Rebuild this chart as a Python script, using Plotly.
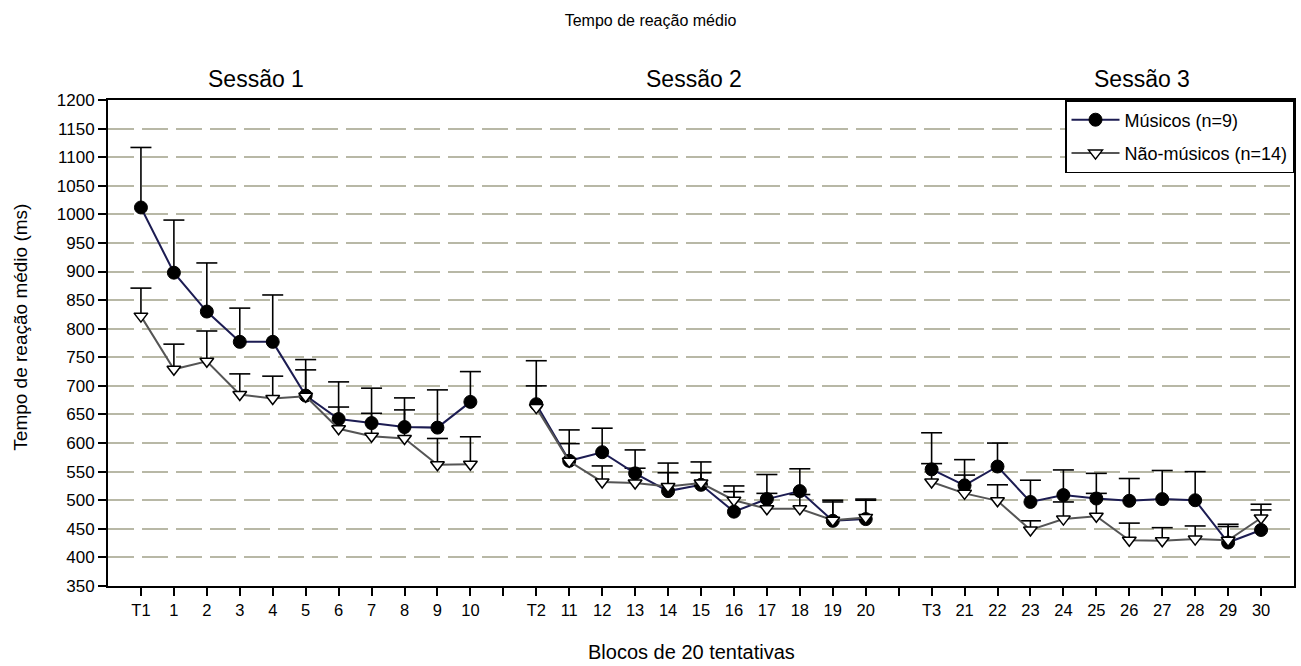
import plotly.graph_objects as go

# ---------------- data ----------------
sessions = ["Sessão 1", "Sessão 2", "Sessão 3"]
labels_s1 = ["T1", "1", "2", "3", "4", "5", "6", "7", "8", "9", "10"]
labels_s2 = ["T2", "11", "12", "13", "14", "15", "16", "17", "18", "19", "20"]
labels_s3 = ["T3", "21", "22", "23", "24", "25", "26", "27", "28", "29", "30"]

mus_s1 = [1012, 898, 830, 777, 777, 683, 642, 635, 628, 627, 672]
mus_s2 = [668, 569, 584, 547, 516, 527, 480, 502, 516, 464, 467]
mus_s3 = [554, 526, 559, 497, 509, 503, 499, 502, 500, 426, 448]
mus_sd_s1 = [105, 92, 85, 59, 82, 63, 65, 61, 51, 66, 53]
mus_sd_s2 = [76, 54, 42, 41, 49, 40, 45, 43, 39, 36, 35]
mus_sd_s3 = [64, 45, 41, 38, 44, 44, 39, 50, 50, 32, 45]

nao_s1 = [822, 729, 743, 685, 678, 682, 625, 612, 608, 562, 563]
nao_s2 = [662, 568, 532, 530, 524, 530, 500, 485, 485, 465, 470]
nao_s3 = [532, 512, 499, 448, 467, 472, 430, 429, 432, 430, 469]
nao_sd_s1 = [49, 44, 53, 36, 39, 46, 38, 40, 50, 46, 48]
nao_sd_s2 = [38, 31, 28, 26, 24, 18, 15, 27, 25, 32, 30]
nao_sd_s3 = [32, 32, 28, 16, 30, 40, 30, 23, 23, 24, 14]

y_ticks = list(range(350, 1201, 50))

# ------------- assemble with gaps between sessions -------------
def join(a, b, c, gap=None):
    return list(a) + [gap] + list(b) + [gap] + list(c)

tick_text = join(labels_s1, labels_s2, labels_s3, "")
xs = list(range(len(tick_text)))
mus = join(mus_s1, mus_s2, mus_s3)
mus_sd = join(mus_sd_s1, mus_sd_s2, mus_sd_s3)
nao = join(nao_s1, nao_s2, nao_s3)
nao_sd = join(nao_sd_s1, nao_sd_s2, nao_sd_s3)


def err_traces(x, m, sd):
    sx, sy, cx, cy = [], [], [], []
    for xi, mi, si in zip(x, m, sd):
        if mi is None:
            continue
        sx += [xi, xi, None]
        sy += [mi, mi + si, None]
        cx.append(xi)
        cy.append(mi + si)
    stem = go.Scatter(x=sx, y=sy, mode="lines", line=dict(color="black", width=1.6),
                      showlegend=False, hoverinfo="skip")
    cap = go.Scatter(x=cx, y=cy, mode="markers",
                     marker=dict(symbol="line-ew", size=15,
                                 line=dict(color="black", width=1.6)),
                     showlegend=False, hoverinfo="skip")
    return [stem, cap]


FONT = "Liberation Sans, Arial, sans-serif"
fig = go.Figure()
for t in err_traces(xs, mus, mus_sd) + err_traces(xs, nao, nao_sd):
    fig.add_trace(t)

fig.add_trace(go.Scatter(
    x=xs, y=mus, name="Músicos (n=9)", mode="lines+markers",
    legendgroup="m",
    line=dict(color="#1C1C52", width=2),
    marker=dict(symbol="circle", size=13, color="black",
                line=dict(color="black", width=1)),
    connectgaps=False))
fig.add_trace(go.Scatter(
    x=xs, y=nao, name="Não-músicos (n=14)", mode="lines+markers",
    legendgroup="n",
    line=dict(color="#555555", width=2),
    marker=dict(symbol="triangle-down", size=12, color="white",
                line=dict(color="black", width=1.5)),
    connectgaps=False))

fig.update_layout(
    width=1301, height=666,
    margin=dict(l=108, r=5, t=100, b=80),
    paper_bgcolor="white", plot_bgcolor="white",
    font=dict(family=FONT, size=16, color="black"),
    title=dict(text="Tempo de reação médio", x=0.5, xanchor="center",
               y=0.97, yanchor="middle", yref="container",
               font=dict(size=16, family=FONT)),
    legend=dict(x=1, xanchor="right", y=1, yanchor="top",
                bgcolor="white", bordercolor="black", borderwidth=1.5,
                font=dict(size=18, family=FONT), itemwidth=48,
                traceorder="grouped", tracegroupgap=7),
    showlegend=True,
)

fig.update_xaxes(
    range=[-1, len(tick_text)], tickmode="array", tickvals=xs, ticktext=tick_text,
    showgrid=False, zeroline=False, showline=True, linecolor="black",
    linewidth=2, mirror=True, ticks="outside", ticklen=8, tickcolor="black",
    tickwidth=1.5, tickfont=dict(size=16.5),
)
fig.update_yaxes(
    range=[350, 1200], tickmode="array", tickvals=y_ticks,
    showgrid=True, gridcolor="#B8B8A6", gridwidth=2, griddash="26px,8px",
    zeroline=False, showline=True, linecolor="black", linewidth=2, mirror=True,
    ticks="outside", ticklen=8, tickcolor="black", tickwidth=1.5,
    tickfont=dict(size=17),
)

# axis titles
fig.add_annotation(x=-0.074, y=0.532, xref="paper", yref="paper",
                   xanchor="center", yanchor="middle", textangle=-90,
                   text="Tempo de reação médio (ms)", showarrow=False,
                   font=dict(size=19, family=FONT))
fig.add_annotation(x=0.4916, y=-0.135, xref="paper", yref="paper",
                   xanchor="center", yanchor="middle",
                   text="Blocos de 20 tentativas", showarrow=False,
                   font=dict(size=20, family=FONT))

# session headers
session_x = [3.5, 16.8, 30.4]
for name, sx in zip(sessions, session_x):
    fig.add_annotation(x=sx, y=1.0, xref="x", yref="paper", yanchor="bottom",
                       yshift=6, text=name, showarrow=False,
                       font=dict(size=23, family=FONT))

fig.write_html("out.html")
